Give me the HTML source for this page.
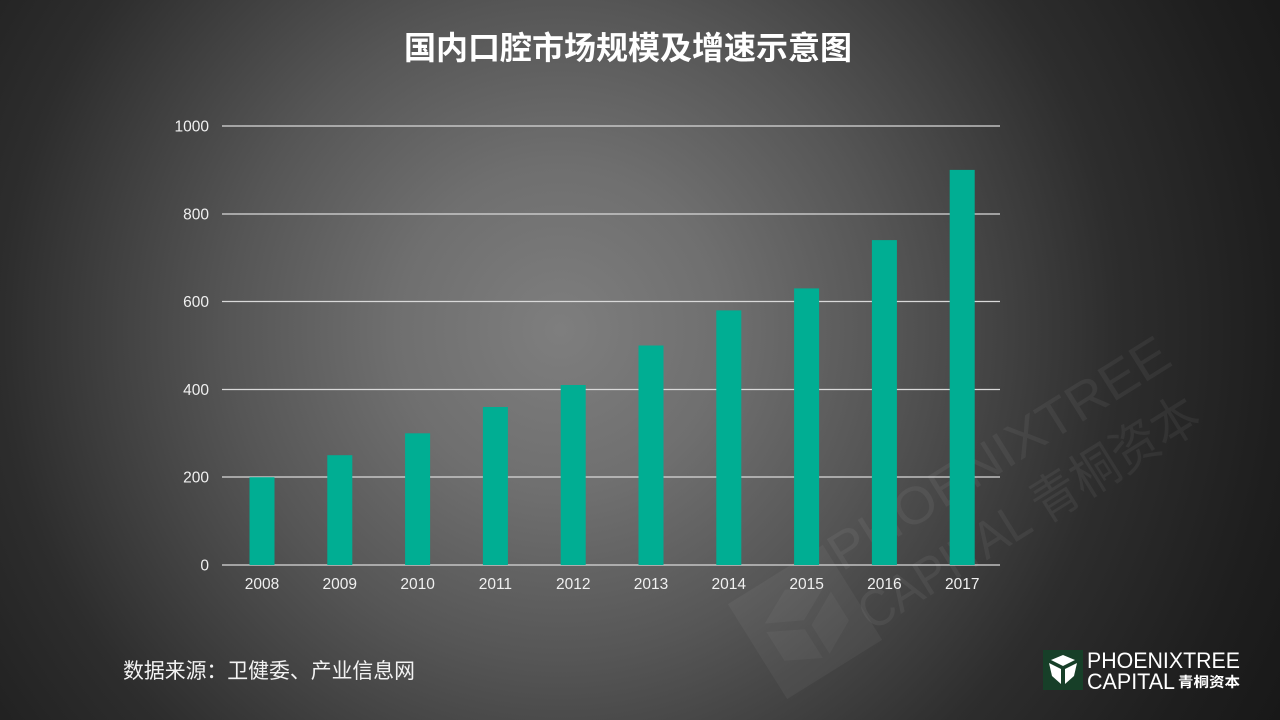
<!DOCTYPE html>
<html>
<head>
<meta charset="utf-8">
<style>
html,body{margin:0;padding:0;width:1280px;height:720px;overflow:hidden;background:#333;}
svg{display:block;}
</style>
</head>
<body>
<svg width="1280" height="720" viewBox="0 0 1280 720" xmlns="http://www.w3.org/2000/svg">
<defs>
<radialGradient id="bg" cx="560" cy="330" r="820" gradientUnits="userSpaceOnUse">
<stop offset="0" stop-color="#7e7e7e"/>
<stop offset="0.2" stop-color="#6f6f6f"/>
<stop offset="0.4" stop-color="#565656"/>
<stop offset="0.68" stop-color="#2d2d2d"/>
<stop offset="0.88" stop-color="#1e1e1e"/>
<stop offset="1" stop-color="#181818"/>
</radialGradient>
</defs>
<rect x="0" y="0" width="1280" height="720" fill="url(#bg)"/>

<!-- watermark -->
<g fill="#ffffff" fill-opacity="0.055" font-family="'Liberation Sans','Noto Sans CJK SC',sans-serif">
  <g transform="translate(805,622) rotate(-32)">
    <rect x="-56" y="-56" width="112" height="112" fill="#ffffff" fill-opacity="0.045"/>
    <path d="M-35,-20 L0,-38 L35,-20 L0,-2 Z M-38,-12 L-4,6 L-4,40 L-38,22 Z M38,-12 L4,6 L4,40 L38,22 Z" fill="#ffffff" fill-opacity="0.04"/>
  </g>
  <text transform="translate(842,572) rotate(-32)" font-size="52" textLength="392" lengthAdjust="spacingAndGlyphs">PHOENIXTREE</text>
  <text transform="translate(872,632) rotate(-32)" font-size="52" textLength="392" lengthAdjust="spacingAndGlyphs">CAPITAL 青桐资本</text>
</g>

<!-- title -->
<text x="628" y="59" text-anchor="middle" font-family="'Liberation Sans','Noto Sans CJK SC',sans-serif" font-weight="bold" font-size="32" fill="#ffffff">国内口腔市场规模及增速示意图</text>

<!-- gridlines -->
<g stroke="#d9d9d9" stroke-width="1.2">
<line x1="222" y1="126" x2="1000" y2="126"/>
<line x1="222" y1="214" x2="1000" y2="214"/>
<line x1="222" y1="301.5" x2="1000" y2="301.5"/>
<line x1="222" y1="389.5" x2="1000" y2="389.5"/>
<line x1="222" y1="477" x2="1000" y2="477"/>
<line x1="222" y1="565" x2="1000" y2="565"/>
</g>

<!-- bars -->
<g fill="#00ae93">
<rect x="249.5" y="477.2" width="25" height="87.8"/>
<rect x="327.3" y="455.2" width="25" height="109.8"/>
<rect x="405.1" y="433.3" width="25" height="131.7"/>
<rect x="482.9" y="407.0" width="25" height="158.0"/>
<rect x="560.7" y="385.0" width="25" height="180.0"/>
<rect x="638.5" y="345.5" width="25" height="219.5"/>
<rect x="716.3" y="310.4" width="25" height="254.6"/>
<rect x="794.1" y="288.4" width="25" height="276.6"/>
<rect x="871.9" y="240.1" width="25" height="324.9"/>
<rect x="949.7" y="169.9" width="25" height="395.1"/>
</g>

<!-- y labels -->
<g font-family="'Liberation Sans',sans-serif" font-size="15.5" fill="#f0f0f0" text-anchor="end">
<text x="209" y="131.5">1000</text>
<text x="209" y="219.5">800</text>
<text x="209" y="307">600</text>
<text x="209" y="395">400</text>
<text x="209" y="482.5">200</text>
<text x="209" y="570.5">0</text>
</g>

<!-- x labels -->
<g font-family="'Liberation Sans',sans-serif" font-size="15.5" fill="#f0f0f0" text-anchor="middle">
<text x="262" y="589">2008</text>
<text x="339.8" y="589">2009</text>
<text x="417.6" y="589">2010</text>
<text x="495.4" y="589">2011</text>
<text x="573.2" y="589">2012</text>
<text x="651" y="589">2013</text>
<text x="728.8" y="589">2014</text>
<text x="806.6" y="589">2015</text>
<text x="884.4" y="589">2016</text>
<text x="962.2" y="589">2017</text>
</g>

<!-- source -->
<text x="123" y="678" font-family="'Liberation Sans','Noto Sans CJK SC',sans-serif" font-size="21" fill="#f2f2f2" textLength="292" lengthAdjust="spacingAndGlyphs">数据来源：卫健委、产业信息网</text>

<!-- logo -->
<rect x="1043" y="650" width="40" height="40" fill="#173f28"/>
<g fill="#ffffff">
<path d="M1051,660 L1063,655 L1075,660 L1063,666 Z"/>
<path d="M1049,663 L1061,669 L1061,684 L1052,676 Z"/>
<path d="M1077,663 L1065,669 L1065,684 L1074,676 Z"/>
</g>
<g font-family="'Liberation Sans',sans-serif" fill="#ffffff">
<text x="1087" y="668" font-size="22" textLength="153" lengthAdjust="spacingAndGlyphs">PHOENIXTREE</text>
<text x="1087" y="689" font-size="22" textLength="88" lengthAdjust="spacingAndGlyphs">CAPITAL</text>
</g>
<text x="1178" y="687" font-family="'Noto Sans CJK SC',sans-serif" font-weight="bold" font-size="14" fill="#ffffff" textLength="62" lengthAdjust="spacingAndGlyphs">青桐资本</text>
</svg>
</body>
</html>
